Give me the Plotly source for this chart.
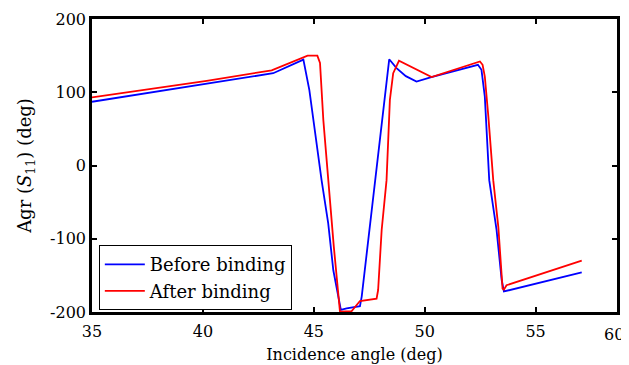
import plotly.graph_objects as go

# Before binding (blue)
before_x = [35, 40.17, 43.17, 44.53, 44.8, 45.35, 45.65, 45.88, 46.22, 46.48, 46.93, 47.08,
            47.16, 47.76, 48.4, 48.73, 49.15, 49.63, 50.3, 52.4, 52.56, 52.71, 52.91,
            53.24, 53.47, 53.57, 57.08]
before_y = [87, 112, 126, 144.5, 103, -20, -79, -143, -197, -195, -193, -192,
            -179, -20, 145, 133, 122, 114.6, 120.7, 137.5, 130.6, 94, -20,
            -88, -156, -172, -146]

# After binding (red)
after_x = [35, 40.17, 43.1, 44.72, 45.16, 45.28, 45.43, 45.65, 45.9, 46.18, 46.7, 47.08,
           47.83, 47.9, 48.06, 48.28, 48.43, 48.58, 48.84, 50.31, 52.49, 52.61, 52.71,
           52.87, 53.09, 53.32, 53.51, 53.57, 53.69, 57.08]
after_y = [93, 115.6, 130, 150, 150, 140, 62, -20, -110, -199.5, -199, -185,
           -181.7, -170, -88, -20, 89.6, 126, 143, 120.7, 142, 137.5, 121.5,
           66.8, -20, -84, -168, -169.5, -163.5, -130]

x_ticks = [35, 40, 45, 50, 55]
y_ticks = [-200, -100, 0, 100, 200]
x_max = 58.67

FONT = "DejaVu Serif"

fig = go.Figure()
fig.add_trace(go.Scatter(x=before_x, y=before_y, mode="lines", name="Before binding",
                         line=dict(color="#0000FF", width=1.8)))
fig.add_trace(go.Scatter(x=after_x, y=after_y, mode="lines", name="After binding",
                         line=dict(color="#FF0000", width=1.8)))

axis_common = dict(showline=True, linecolor="black", linewidth=2.5, mirror="allticks",
                   ticks="inside", ticklen=5, tickwidth=2, tickcolor="black",
                   showgrid=False, zeroline=False, automargin=False,
                   tickfont=dict(family=FONT, size=16, color="black"))

fig.update_xaxes(range=[35, x_max], tickvals=x_ticks, ticklabelstandoff=3,
                 title=dict(text="Incidence angle (deg)", font=dict(family=FONT, size=16, color="black"),
                            standoff=9),
                 **axis_common)
fig.update_yaxes(range=[-200, 200], tickvals=y_ticks, ticktext=[str(v) for v in y_ticks],
                 title=dict(text="Agr (<i>S</i><sub>11</sub>) (deg)",
                            font=dict(family=FONT, size=18, color="black"), standoff=14),
                 **axis_common)

fig.add_annotation(text="60", xref="paper", yref="paper", x=1, y=0, yshift=-11, xshift=9,
                   xanchor="right", yanchor="top", showarrow=False,
                   font=dict(family=FONT, size=16, color="black"))

# The page body has an 8px default margin; size the figure to fit the window.
fig.update_layout(
    width=621, height=357,
    margin=dict(l=84, r=12, t=11, b=53, autoexpand=False),
    paper_bgcolor="white", plot_bgcolor="white",
    legend=dict(x=0.013, y=0.228, xanchor="left", yanchor="top",
                bgcolor="white", bordercolor="black", borderwidth=1,
                font=dict(family=FONT, size=18, color="black"),
                tracegroupgap=0, itemwidth=40),
    showlegend=True,
)

fig.write_html("out.html")
